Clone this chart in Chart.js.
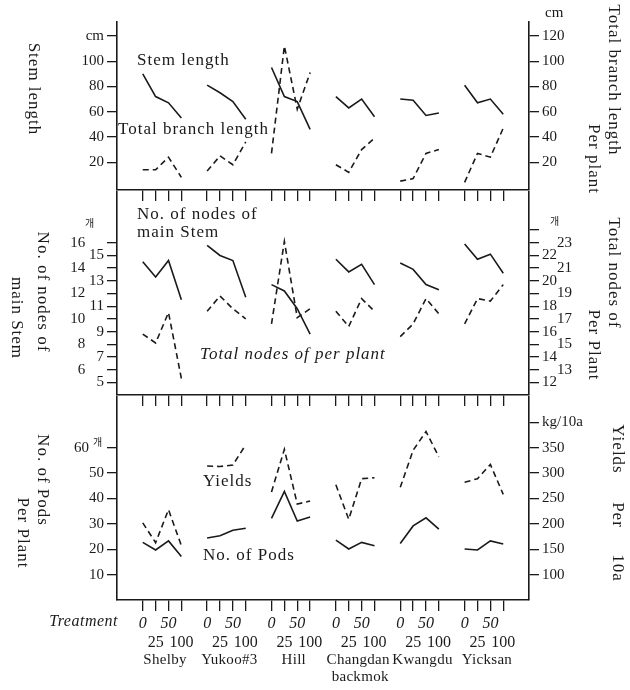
<!DOCTYPE html>
<html>
<head>
<meta charset="utf-8">
<script src="https://cdn.jsdelivr.net/npm/chart.js@4.4.1/dist/chart.umd.min.js"></script>
<style>
body { margin: 0; background: #fff; }
#wrap { position: relative; width: 630px; height: 690px; overflow: hidden; background: #fff; }
canvas { position: absolute; left: 0; }
</style>
</head>
<body>
<div id="wrap">
  <canvas id="c1" width="630" height="205" style="top:0px"></canvas>
  <canvas id="c2" width="630" height="230" style="top:180px"></canvas>
  <canvas id="c3" width="630" height="305" style="top:385px"></canvas>
</div>
<script>
// varieties and treatments (x axis)
const groups = ['Shelby', 'Yukoo#3', 'Hill', 'Changdan', 'Kwangdu', 'Yicksan'];
const treatments = ['0', '25', '50', '100'];

// panel 1 : cm
const stemLength   = [[90, 72, 67, 55], [81, 75, 68, 54], [95, 72, 68, 46], [72, 63, 70, 56], [70, 69, 57, 59], [81, 67, 70, 58]];
const branchLength = [[14, 14, 24, 8], [13, 25, 18, 36], [27, 112, 62, 91], [18, 12, 30, 39], [5, 7, 27, 30], [4, 27, 24, 47]];

// panel 2 : 개
const mainNodes  = [[14.5, 13.3, 14.6, 11.5], [15.8, 15.0, 14.6, 11.7], [12.7, 12.2, 10.8, 8.8], [14.7, 13.7, 14.3, 12.7], [14.4, 13.9, 12.7, 12.3], [15.9, 14.7, 15.1, 13.6]];
const totalNodes = [[15.8, 15.1, 17.5, 12.3], [17.6, 18.8, 17.8, 17.0], [16.6, 23.1, 17.1, 17.8], [17.6, 16.4, 18.6, 17.6], [15.6, 16.6, 18.6, 17.4], [16.6, 18.6, 18.4, 19.7]];

// panel 3 : pods per plant, kg/10a
const pods   = [[22.7, 19.7, 23.3, 17.1], [24.4, 25.3, 27.5, 28.3], [32.2, 42.8, 31.1, 32.7], [23.6, 20.1, 22.7, 21.4], [22.3, 29.2, 32.4, 27.9], [20.1, 19.7, 23.3, 22.1]];
const yields = [[202, 163, 228, 157], [314, 313, 316, 356], [263, 347, 239, 245], [277, 209, 289, 291], [272, 345, 382, 332], [282, 289, 317, 258]];

// tick values
const ticks1L = [20, 40, 60, 80, 100, 120];
const ticks1R = [20, 40, 60, 80, 100, 120];
const ticks2L = [5, 6, 7, 8, 9, 10, 11, 12, 13, 14, 15, 16];
const ticks2R = [12, 13, 14, 15, 16, 17, 18, 19, 20, 21, 22, 23, 24];
const ticks3L = [10, 20, 30, 40, 50, 60];
const ticks3R = [100, 150, 200, 250, 300, 350, 400];

const INK = '#1a1a1a';
const SERIF = '"Liberation Serif", "DejaVu Serif", serif';
const tickFont = { family: SERIF, size: 15 };

const xPos = [];
groups.forEach((g, gi) => treatments.forEach((t, ti) => xPos.push(gi * 5 + ti)));

// one line piece per variety, broken by a null
function series(vals) {
  const pts = [];
  vals.forEach((grp, g) => {
    grp.forEach((v, t) => pts.push({ x: g * 5 + t, y: v }));
    pts.push({ x: g * 5 + 4, y: null });
  });
  return pts;
}

function line(vals, axis, dashed) {
  return {
    data: series(vals),
    yAxisID: axis,
    borderColor: INK,
    borderWidth: 1.6,
    borderDash: dashed ? [6, 4] : [],
    pointRadius: 0,
    tension: 0,
    fill: false
  };
}

function yAxis(pos, min, max, vals, fmt) {
  return {
    position: pos, min: min, max: max,
    afterBuildTicks: s => { s.ticks = vals.map(v => ({ value: v })); },
    afterFit: s => { s.width = pos === 'left' ? 117 : 101; },
    grid: { drawOnChartArea: false, color: INK, tickLength: 10, lineWidth: 1.3 },
    border: { color: INK, width: 1.6 },
    ticks: { color: INK, font: tickFont, padding: 3, autoSkip: false, callback: fmt }
  };
}

const xAxis = {
  type: 'linear', min: -2, max: 30,
  afterBuildTicks: s => { s.ticks = xPos.map(v => ({ value: v })); },
  grid: { drawOnChartArea: false, color: INK, tickLength: 11, lineWidth: 1.3 },
  border: { color: INK, width: 1.6 },
  ticks: { display: false, autoSkip: false }
};

function drawText(ctx, it) {
  ctx.save();
  ctx.font = it.font || '17px ' + SERIF;
  ctx.fillStyle = INK;
  ctx.letterSpacing = it.ls || '0px';
  ctx.textAlign = it.align || 'left';
  ctx.textBaseline = 'middle';
  ctx.translate(it.x, it.y);
  if (it.rot) ctx.rotate(Math.PI / 2);
  ctx.fillText(it.t, 0, 0);
  ctx.restore();
}

// page-coordinate labels, shifted by the canvas top
function labels(top, items) {
  return {
    id: 'labels',
    afterDraw(chart) {
      items.forEach(it => drawText(chart.ctx, Object.assign({}, it, { y: it.y - top })));
    }
  };
}

const xLabels = {
  id: 'xLabels',
  afterDraw(chart) {
    const sx = chart.scales.x, ctx = chart.ctx, base = chart.chartArea.bottom;
    groups.forEach((name, g) => {
      treatments.forEach((lab, t) => {
        drawText(ctx, {
          t: lab, x: sx.getPixelForValue(g * 5 + t), y: base + (t % 2 ? 43 : 24), align: 'center',
          font: (t % 2 ? '' : 'italic ') + '16px ' + SERIF
        });
      });
      drawText(ctx, { t: name, x: sx.getPixelForValue(g * 5 + 1.5) + 3, y: base + 60, align: 'center', font: '15px ' + SERIF, ls: '0.3px' });
    });
    drawText(ctx, { t: 'backmok', x: sx.getPixelForValue(3 * 5 + 1.5) + 5, y: base + 77, align: 'center', font: '15px ' + SERIF, ls: '0.3px' });
    drawText(ctx, { t: 'Treatment', x: 118, y: base + 22, align: 'right', font: 'italic 16px ' + SERIF, ls: '0.5px' });
  }
};

function makeChart(id, pad, datasets, scales, plugins) {
  return new Chart(document.getElementById(id), {
    type: 'line',
    data: { datasets: datasets },
    options: {
      responsive: false,
      animation: false,
      devicePixelRatio: 1,
      layout: { padding: pad },
      plugins: { legend: { display: false }, tooltip: { enabled: false } },
      scales: scales
    },
    plugins: plugins
  });
}

// panel 1
makeChart('c1', { top: 22, bottom: 4, left: 0, right: 0 },
  [line(stemLength, 'y', false), line(branchLength, 'y2', true)],
  {
    x: xAxis,
    y: yAxis('left', -2, 131, ticks1L, v => v === 120 ? 'cm' : String(v)),
    y2: yAxis('right', -2, 131, ticks1R, v => String(v))
  },
  [labels(0, [
    { t: 'Stem length', x: 33, y: 89, rot: true, align: 'center', ls: '1px' },
    { t: 'Total branch length', x: 613, y: 80, rot: true, align: 'center', ls: '1px' },
    { t: 'Per plant', x: 593, y: 159, rot: true, align: 'center', ls: '1px' },
    { t: 'cm', x: 545, y: 13, font: '15px ' + SERIF },
    { t: 'Stem length', x: 137, y: 61, ls: '1px' },
    { t: 'Total branch length', x: 118, y: 130, ls: '1px' }
  ])]
);

// panel 2
makeChart('c2', { top: 10, bottom: 4, left: 0, right: 0 },
  [line(mainNodes, 'y', false), line(totalNodes, 'y2', true)],
  {
    x: xAxis,
    y: yAxis('left', 4, 20, ticks2L, v => v % 2 === 0 ? v + '     ' : String(v)),
    y2: yAxis('right', 11, 27, ticks2R, v => v === 24 ? '' : (v % 2 ? '    ' + v : String(v)))
  },
  [labels(180, [
    { t: 'No. of nodes of', x: 42, y: 292, rot: true, align: 'center', ls: '1px' },
    { t: 'main Stem', x: 16, y: 318, rot: true, align: 'center', ls: '1px' },
    { t: 'Total nodes of', x: 613, y: 273, rot: true, align: 'center', ls: '1px' },
    { t: 'Per Plant', x: 593, y: 345, rot: true, align: 'center', ls: '1px' },
    { t: '개', x: 85, y: 223, font: '10px "Noto Sans CJK KR"' },
    { t: '개', x: 550, y: 221, font: '10px "Noto Sans CJK KR"' },
    { t: 'No. of nodes of', x: 137, y: 215, ls: '1px' },
    { t: 'main Stem', x: 137, y: 233, ls: '1px' },
    { t: 'Total nodes of per plant', x: 200, y: 355, font: 'italic 17px ' + SERIF, ls: '1px' }
  ])]
);

// panel 3
makeChart('c3', { top: 10, bottom: 79, left: 0, right: 0 },
  [line(pods, 'y', false), line(yields, 'y2', true)],
  {
    x: xAxis,
    y: yAxis('left', 0, 80, ticks3L, v => v === 60 ? '60    ' : String(v)),
    y2: yAxis('right', 50, 450, ticks3R, v => v === 400 ? 'kg/10a' : String(v))
  },
  [labels(385, [
    { t: 'No. of Pods', x: 42, y: 480, rot: true, align: 'center', ls: '1px' },
    { t: 'Per Plant', x: 22, y: 533, rot: true, align: 'center', ls: '1px' },
    { t: 'Yields', x: 617, y: 449, rot: true, align: 'center', ls: '1px' },
    { t: 'Per', x: 617, y: 515, rot: true, align: 'center', ls: '1px' },
    { t: '10a', x: 617, y: 568, rot: true, align: 'center', ls: '1px' },
    { t: '개', x: 93, y: 442, font: '10px "Noto Sans CJK KR"' },
    { t: 'Yields', x: 203, y: 482, ls: '1px' },
    { t: 'No. of Pods', x: 203, y: 556, ls: '1px' }
  ]), xLabels]
);
</script>
</body>
</html>
